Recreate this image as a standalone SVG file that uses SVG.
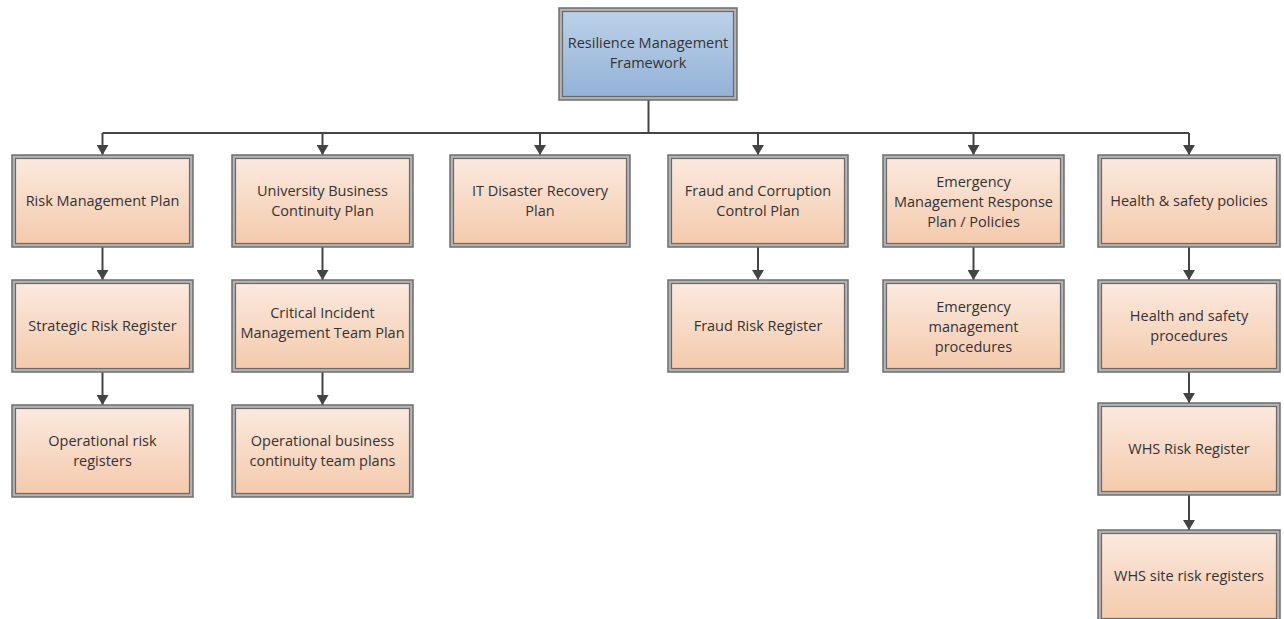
<svg xmlns="http://www.w3.org/2000/svg" width="1284" height="619" viewBox="0 0 1284 619">
<defs>
<linearGradient id="peach" x1="0" y1="0" x2="0" y2="1">
<stop offset="0" stop-color="#fbe9de"/>
<stop offset="1" stop-color="#f4caac"/>
</linearGradient>
<linearGradient id="blue" x1="0" y1="0" x2="0" y2="1">
<stop offset="0" stop-color="#bcd1e8"/>
<stop offset="1" stop-color="#93b2d6"/>
</linearGradient>
<marker id="arr" markerWidth="10" markerHeight="12" refX="10" refY="6" orient="auto" markerUnits="userSpaceOnUse">
<path d="M0,0 L10,6 L0,12 Z" fill="#444"/>
</marker>
</defs>
<style>
.band{fill:#b3b3b3;stroke:#6e6e6e;stroke-width:1.5}
.fill{fill:url(#peach);stroke:#6a6a6a;stroke-width:1.2}
.fillb{fill:url(#blue);stroke:#6a6a6a;stroke-width:1.2}
.lbl{font-family:"Open Sans","Noto Sans","Liberation Sans",sans-serif;font-size:14.5px;fill:#333;text-anchor:middle}
.con{fill:none;stroke:#444;stroke-width:2}
.arw{fill:none;stroke:#444;stroke-width:2;marker-end:url(#arr)}
</style>
<rect width="1284" height="619" fill="#ffffff"/>

<g id="connectors">
<path class="con" d="M648.5,100 V133"/>
<path class="con" d="M102.5,133 H1189"/>
<path class="arw" d="M102.5,133 V155"/>
<path class="arw" d="M322.5,133 V155"/>
<path class="arw" d="M540,133 V155"/>
<path class="arw" d="M758,133 V155"/>
<path class="arw" d="M973.5,133 V155"/>
<path class="arw" d="M1189,133 V155"/>
<path class="arw" d="M102.5,247 V280"/>
<path class="arw" d="M102.5,372 V405"/>
<path class="arw" d="M322.5,247 V280"/>
<path class="arw" d="M322.5,372 V405"/>
<path class="arw" d="M758,247 V280"/>
<path class="arw" d="M973.5,247 V280"/>
<path class="arw" d="M1189,247 V280"/>
<path class="arw" d="M1189,372 V403"/>
<path class="arw" d="M1189,495 V530"/>
</g>

<g id="n-rmf">
<rect class="band" x="559" y="8" width="178" height="92"/>
<rect class="fillb" x="562.5" y="11.5" width="171" height="85"/>
<text class="lbl"><tspan x="648" y="48">Resilience Management</tspan><tspan x="648" y="68">Framework</tspan></text>
</g>

<g id="n-risk-plan">
<rect class="band" x="12" y="155" width="181" height="92"/>
<rect class="fill" x="15.5" y="158.5" width="174" height="85"/>
<text class="lbl" x="102.5" y="206">Risk Management Plan</text>
</g>
<g id="n-strategic">
<rect class="band" x="12" y="280" width="181" height="92"/>
<rect class="fill" x="15.5" y="283.5" width="174" height="85"/>
<text class="lbl" x="102.5" y="331">Strategic Risk Register</text>
</g>
<g id="n-op-risk">
<rect class="band" x="12" y="405" width="181" height="92"/>
<rect class="fill" x="15.5" y="408.5" width="174" height="85"/>
<text class="lbl"><tspan x="102.5" y="446">Operational risk</tspan><tspan x="102.5" y="466">registers</tspan></text>
</g>

<g id="n-ubcp">
<rect class="band" x="232" y="155" width="181" height="92"/>
<rect class="fill" x="235.5" y="158.5" width="174" height="85"/>
<text class="lbl"><tspan x="322.5" y="196">University Business</tspan><tspan x="322.5" y="216">Continuity Plan</tspan></text>
</g>
<g id="n-cimt">
<rect class="band" x="232" y="280" width="181" height="92"/>
<rect class="fill" x="235.5" y="283.5" width="174" height="85"/>
<text class="lbl"><tspan x="322.5" y="318">Critical Incident</tspan><tspan x="322.5" y="338">Management Team Plan</tspan></text>
</g>
<g id="n-obct">
<rect class="band" x="232" y="405" width="181" height="92"/>
<rect class="fill" x="235.5" y="408.5" width="174" height="85"/>
<text class="lbl"><tspan x="322.5" y="446">Operational business</tspan><tspan x="322.5" y="466">continuity team plans</tspan></text>
</g>

<g id="n-itdr">
<rect class="band" x="450" y="155" width="180" height="92"/>
<rect class="fill" x="453.5" y="158.5" width="173" height="85"/>
<text class="lbl"><tspan x="540" y="196">IT Disaster Recovery</tspan><tspan x="540" y="216">Plan</tspan></text>
</g>

<g id="n-fccp">
<rect class="band" x="668" y="155" width="180" height="92"/>
<rect class="fill" x="671.5" y="158.5" width="173" height="85"/>
<text class="lbl"><tspan x="758" y="196">Fraud and Corruption</tspan><tspan x="758" y="216">Control Plan</tspan></text>
</g>
<g id="n-frr">
<rect class="band" x="668" y="280" width="180" height="92"/>
<rect class="fill" x="671.5" y="283.5" width="173" height="85"/>
<text class="lbl" x="758" y="331">Fraud Risk Register</text>
</g>

<g id="n-emrp">
<rect class="band" x="883" y="155" width="181" height="92"/>
<rect class="fill" x="886.5" y="158.5" width="174" height="85"/>
<text class="lbl"><tspan x="973.5" y="187">Emergency</tspan><tspan x="973.5" y="207">Management Response</tspan><tspan x="973.5" y="227">Plan / Policies</tspan></text>
</g>
<g id="n-emp">
<rect class="band" x="883" y="280" width="181" height="92"/>
<rect class="fill" x="886.5" y="283.5" width="174" height="85"/>
<text class="lbl"><tspan x="973.5" y="312">Emergency</tspan><tspan x="973.5" y="332">management</tspan><tspan x="973.5" y="352">procedures</tspan></text>
</g>

<g id="n-hsp">
<rect class="band" x="1098" y="155" width="182" height="92"/>
<rect class="fill" x="1101.5" y="158.5" width="175" height="85"/>
<text class="lbl" x="1189" y="206">Health &amp; safety policies</text>
</g>
<g id="n-hsproc">
<rect class="band" x="1098" y="280" width="182" height="92"/>
<rect class="fill" x="1101.5" y="283.5" width="175" height="85"/>
<text class="lbl"><tspan x="1189" y="321">Health and safety</tspan><tspan x="1189" y="341">procedures</tspan></text>
</g>
<g id="n-whsrr">
<rect class="band" x="1098" y="403" width="182" height="92"/>
<rect class="fill" x="1101.5" y="406.5" width="175" height="85"/>
<text class="lbl" x="1189" y="454">WHS Risk Register</text>
</g>
<g id="n-whssite">
<rect class="band" x="1098" y="530" width="182" height="92"/>
<rect class="fill" x="1101.5" y="533.5" width="175" height="85"/>
<text class="lbl" x="1189" y="581">WHS site risk registers</text>
</g>
</svg>
